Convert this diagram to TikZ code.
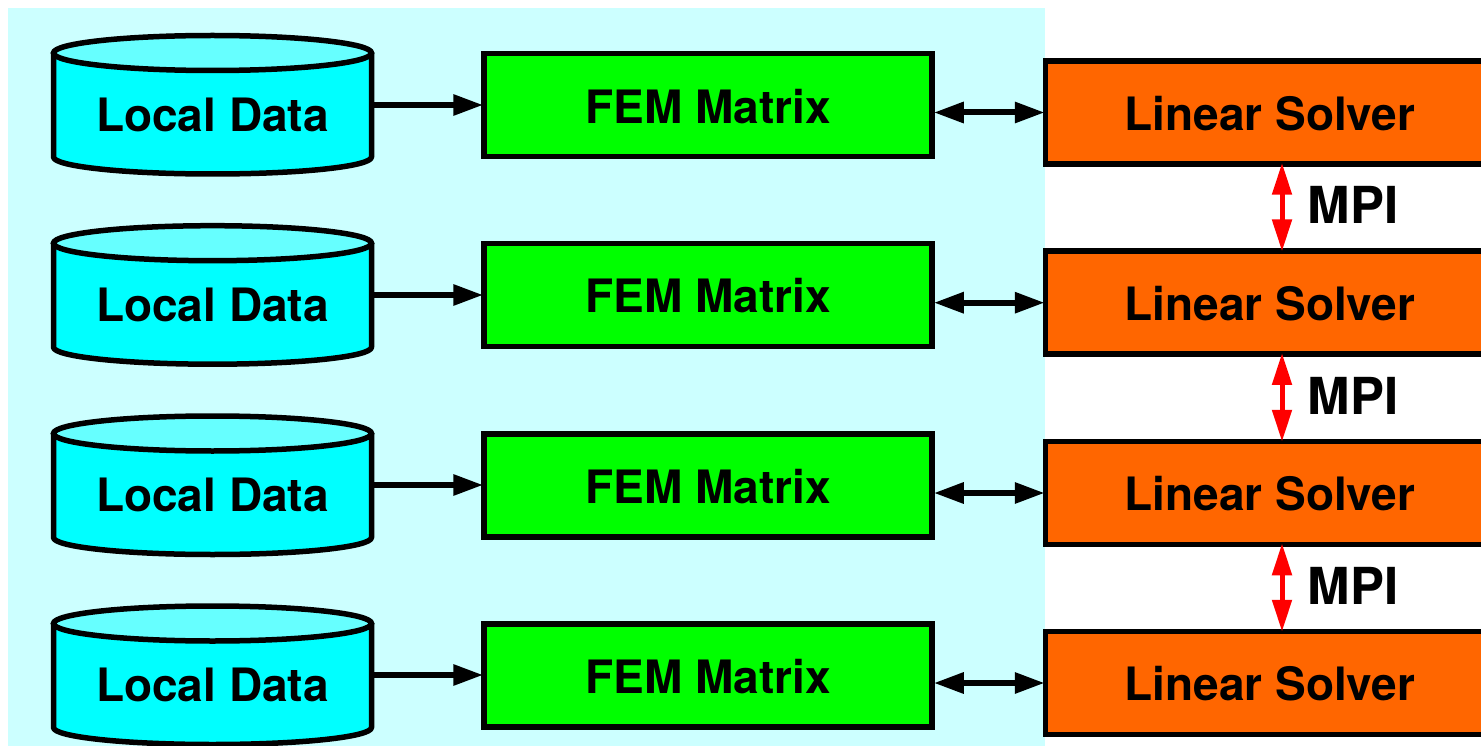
\documentclass[tikz,border=0pt]{standalone}
\usepackage{fontspec}
\setmainfont{TeX Gyre Heros}
\usetikzlibrary{arrows.meta}
\definecolor{bgc}{HTML}{CCFFFF}
\definecolor{cylc}{HTML}{00FFFF}
\definecolor{cyltop}{HTML}{66FFFF}
\definecolor{femc}{HTML}{00FF00}
\definecolor{solc}{HTML}{FF6600}
\definecolor{mpic}{HTML}{FF0000}
\tikzset{
  lbl/.style={inner sep=0pt,anchor=base,font=\fontsize{46}{50}\selectfont\bfseries},
  mpilbl/.style={inner sep=0pt,anchor=base,font=\fontsize{51}{54}\selectfont\bfseries},
  cyl/.style={draw=black,line width=5.5pt,fill=cylc,line join=round},
  cyltopst/.style={draw=black,line width=5.5pt,fill=cyltop},
  cylanchor/.style={inner sep=0pt,minimum width=318pt,minimum height=140pt},
  fembox/.style={draw=black,line width=5.5pt,fill=femc,inner sep=0pt,minimum width=448pt,minimum height=103pt},
  solbox/.style={draw=black,line width=5.5pt,fill=solc,inner sep=0pt,minimum width=449pt,minimum height=103pt},
  flow/.style={line width=6pt,shorten >=-2pt,-{Triangle[length=30pt,width=20pt]}},
  dflow/.style={line width=6pt,shorten >=-2pt,shorten <=-1pt,{Triangle[length=30pt,width=20pt]}-{Triangle[length=30pt,width=20pt]}},
  mpiarrow/.style={draw=mpic,line width=5pt,shorten >=-3pt,shorten <=-4pt,{Triangle[length=32pt,width=19pt]}-{Triangle[length=32pt,width=19pt]}}
}
\begin{document}
\begin{tikzpicture}[x=1pt,y=-1pt]
\useasboundingbox (0,0) rectangle (1481,746);
\clip (0,0) rectangle (1481,746);
\fill[bgc] (8,8) rectangle (1045,746);
\foreach \i/\dy/\fy/\ly/\sy/\ay in {1/0/123.7/131.7/130.7/105,2/190.2/312.5/321.4/320.3/295,3/380.5/503/511.5/510.5/485,4/570.5/693/701.5/700.5/675}{
  \begin{scope}[yshift=-\dy pt]
    \draw[cyl] (53.5,53) -- (53.5,157) arc[start angle=180,end angle=0,x radius=159,y radius=17] -- (371.5,53) -- cycle;
    \draw[cyltopst] (212.5,53) ellipse[x radius=159,y radius=17.5];
    \node[fembox] (fem\i) at (708,104.8) {};
    \node[solbox] (sol\i) at (1270,112.5) {};
    \draw[dflow] (fem\i.east |- sol\i.west) -- (sol\i.west);
  \end{scope}
  \node[cylanchor] (cyl\i) at (212.5,\ay) {};
  \node[lbl] (dat\i) at (212.5,\ly) {Local Data};
  \node[lbl] (femt\i) at (708,\fy) {FEM Matrix};
  \node[lbl] (solt\i) at (1270,\sy) {Linear Solver};
  \draw[flow] (cyl\i.east) -- (fem\i.west |- cyl\i.east);
}
\foreach \a/\b/\dy in {1/2/0,2/3/190.2,3/4/380.5}{
  \draw[mpiarrow] (1282,0 |- sol\a.south) -- (1282,0 |- sol\b.north);
  \node[mpilbl] (mpi\a) at (1353,224+\dy) {MPI};
}
\end{tikzpicture}
\end{document}
